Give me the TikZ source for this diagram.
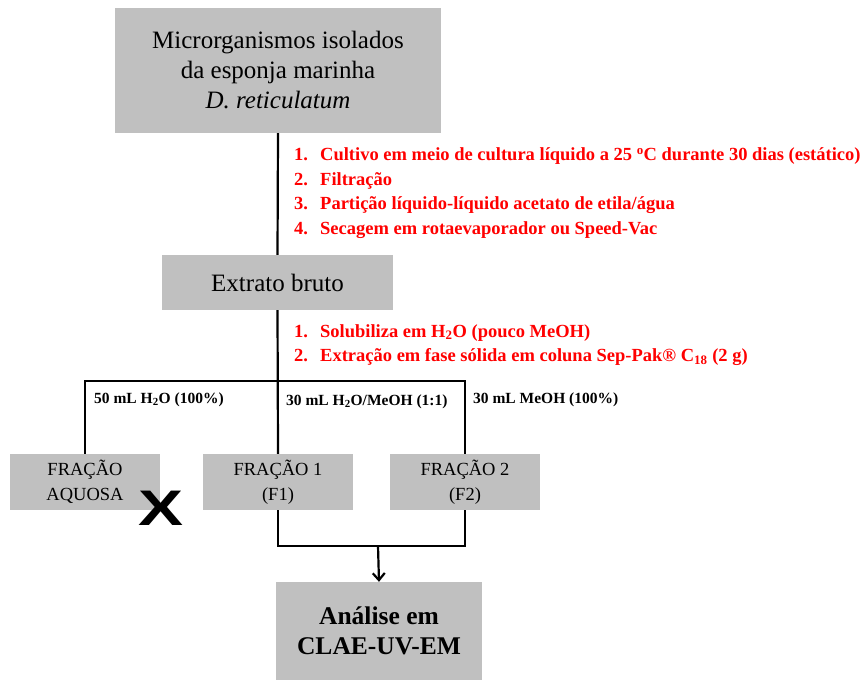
\documentclass[tikz,border=0pt]{standalone}
\usepackage{xcolor}
\usepackage{fontspec}
\setmainfont{Liberation Serif}
\newfontfamily\xfont{Liberation Sans}
\usepackage{tikz}
\usetikzlibrary{arrows.meta}
\definecolor{boxgray}{HTML}{C0C0C0}
\definecolor{stepred}{HTML}{FF0000}
\tikzset{
	graybox/.style={fill=boxgray, inner sep=0pt, align=center},
	steplist/.style={text=stepred, font=\bfseries\fontsize{18.5}{24.5}\selectfont, align=left, anchor=west, inner sep=0pt},
	eluent/.style={font=\bfseries\fontsize{15.5}{16}\selectfont, anchor=west, inner sep=0pt},
	link/.style={line width=2.2pt}
}
\newcommand{\itm}[1]{\makebox[26pt][l]{#1}}
\begin{document}
\begin{tikzpicture}[x=1pt,y=-1pt]
	\useasboundingbox (0,0) rectangle (867,680);
	
	% Boxes
	\node[graybox, minimum width=326pt, minimum height=125pt, font=\fontsize{25}{30}\selectfont] (micro) at (278,70.5) {Microrganismos isolados\\da esponja marinha\\\textit{D. reticulatum}};
	\node[graybox, minimum width=231pt, minimum height=55pt, font=\fontsize{25}{30}\selectfont] (bruto) at (277.5,282.5) {Extrato bruto};
	\node[graybox, minimum width=150pt, minimum height=56pt, font=\fontsize{18.5}{25}\selectfont] (aquosa) at (85,482) {FRAÇÃO\\AQUOSA};
	\node[graybox, minimum width=150pt, minimum height=56pt, font=\fontsize{18.5}{25}\selectfont] (f1) at (278,482) {FRAÇÃO 1\\(F1)};
	\node[graybox, minimum width=150pt, minimum height=56pt, font=\fontsize{18.5}{25}\selectfont] (f2) at (465,482) {FRAÇÃO 2\\(F2)};
	\node[graybox, minimum width=206pt, minimum height=98pt, font=\bfseries\fontsize{25.5}{30}\selectfont] (analise) at (379,631) {Análise em\\CLAE-UV-EM};
	
	% Steps
	\node[steplist] (cultivo) at (294,193) {\itm{1.}Cultivo em meio de cultura líquido a 25 \textsuperscript{o}C durante 30 dias (estático)\\\itm{2.}Filtração\\\itm{3.}Partição líquido-líquido acetato de etila/água\\\itm{4.}Secagem em rotaevaporador ou Speed-Vac};
	\node[steplist] (spe) at (294,345) {\itm{1.}Solubiliza em H\textsubscript{2}O (pouco MeOH)\\\itm{2.}Extração em fase sólida em coluna Sep-Pak® C\textsubscript{18} (2 g)};
	
	% Eluents
	\node[eluent] (agua) at (94,400) {50 mL H\textsubscript{2}O (100\%)};
	\node[eluent] (mistura) at (286,402) {30 mL H\textsubscript{2}O/MeOH (1:1)};
	\node[eluent] (metanol) at (473,400) {30 mL MeOH (100\%)};
	\node[inner sep=0pt, font=\xfont\bfseries\fontsize{50}{50}\selectfont] (descarte) at (161,508) {\scalebox{1.35}[1]{X}};
	
	% Connectors
	\coordinate (split) at (277,381);
	\coordinate (join) at (378,546);
	\draw[link] (micro.south) -- (bruto.north);
	\draw[link] (bruto.south) -- (f1.north);
	\draw[link] (aquosa.north) |- (split) -| (f2.north);
	\draw[link] (f1.south) |- (join) -| (f2.south);
	\draw[link, -{Straight Barb[length=7pt,width=12pt]}] (join) -- (analise.north);
\end{tikzpicture}
\end{document}
